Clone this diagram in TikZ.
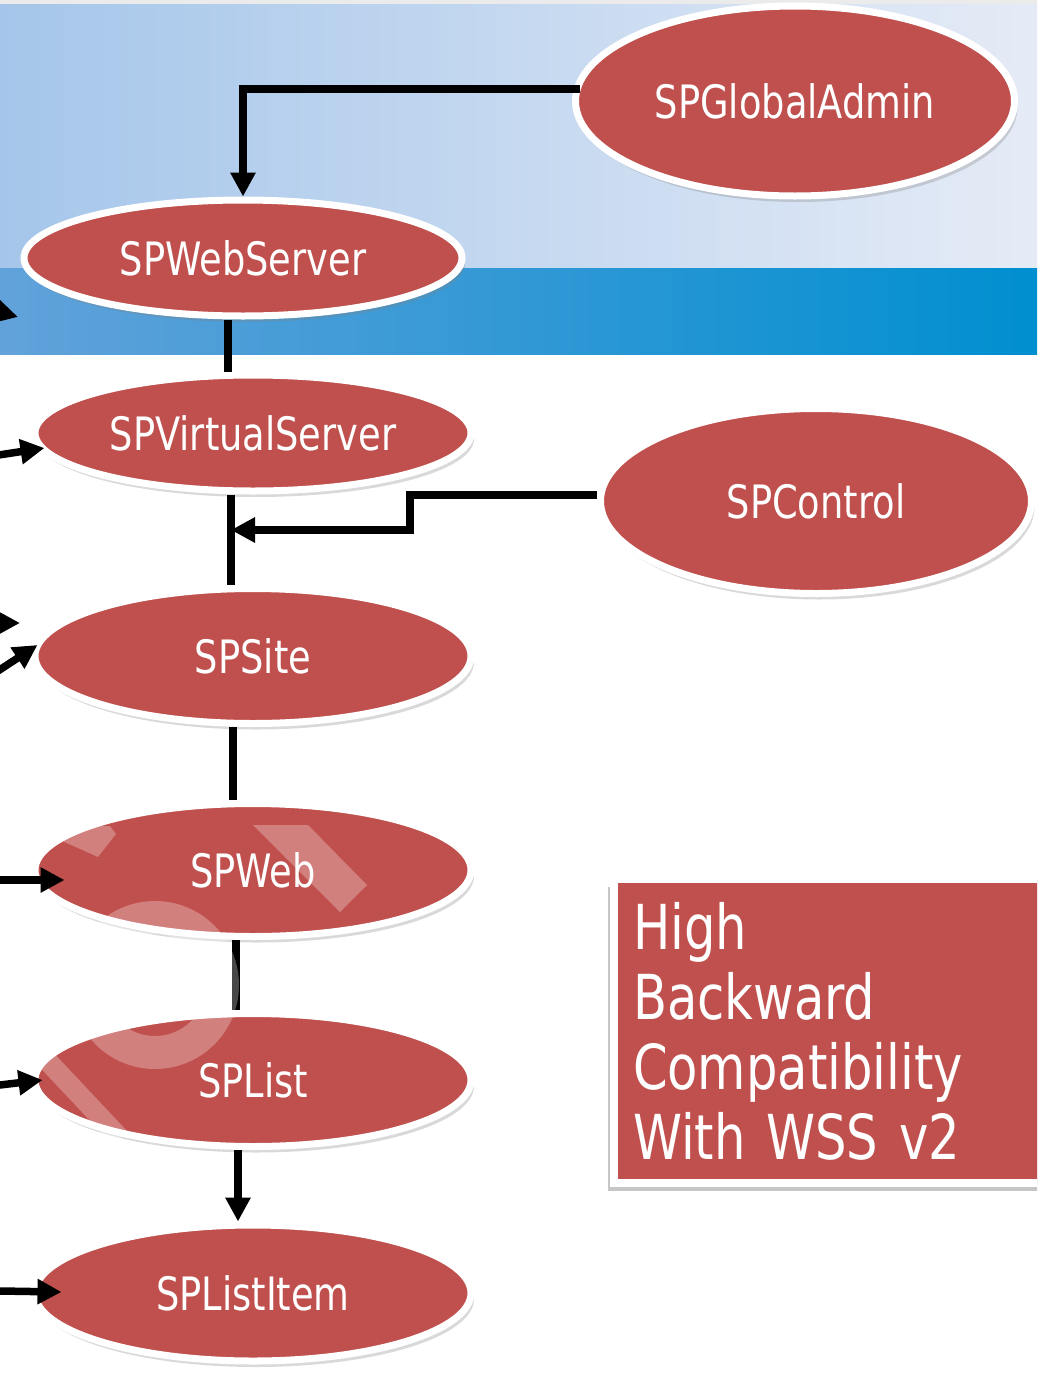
\documentclass[tikz,border=0pt]{standalone}
\usepackage{fontspec}
\setmainfont{DejaVu Sans}[FakeStretch=0.8]
\usetikzlibrary{shapes.geometric,arrows.meta,shadows,calc}
\definecolor{spred}{RGB}{192,80,77}
\definecolor{skyleft}{RGB}{165,198,234}
\definecolor{skymid}{RGB}{205,221,241}
\definecolor{skyright}{RGB}{229,235,246}
\definecolor{bandleft}{RGB}{98,162,218}
\definecolor{bandmid}{RGB}{40,150,214}
\definecolor{bandright}{RGB}{0,143,208}
\begin{document}
\begin{tikzpicture}[x=1pt,y=-1pt,
  obj/.style={ellipse,fill=spred,draw=white,line width=7pt,inner sep=0pt,
    text=white,font=\fontsize{46}{52}\selectfont,minimum width=436pt,
    drop shadow={shadow xshift=3pt,shadow yshift=-6pt,opacity=0.3}},
  link/.style={line width=7.5pt},
  arr/.style={link,-{Triangle[length=24pt,width=24pt]}},
  wmark/.style={white,opacity=0.28}]
  \useasboundingbox (0,0) rectangle (1037,1374);
  \clip (0,0) rectangle (1037,1374);
  % banner
  \fill[black!8] (0,0) rectangle (1037,4);
  \shade[left color=skyleft,middle color=skymid,right color=skyright] (0,4) rectangle (1037,268);
  \shade[left color=bandleft,middle color=bandmid,right color=bandright] (0,268) rectangle (1037,354);
  % object model
  \node[obj,minimum width=439pt,minimum height=190pt] (admin) at (795,101) {SPGlobalAdmin};
  \node[obj,minimum width=438pt,minimum height=116pt] (websrv) at (243,258) {SPWebServer};
  \node[obj,minimum height=116pt] (vsrv) at (253,433) {SPVirtualServer};
  \node[obj,minimum width=431pt,minimum height=185pt] (control) at (816,501) {SPControl};
  \node[obj,minimum height=135pt] (site) at (253,656) {SPSite};
  \node[obj,minimum height=133pt] (web) at (253,870) {SPWeb};
  \node[obj,minimum height=133pt] (list) at (253,1080) {SPList};
  \node[obj,minimum height=136pt] (item) at (253,1293) {SPListItem};
  \node[fill=spred,draw=white,line width=8pt,outer sep=0pt,anchor=north west,
    minimum height=304pt,text width=420pt,inner xsep=19pt,align=left,text=white,
    font=\fontsize{62}{70}\selectfont,
    drop shadow={shadow xshift=-6pt,shadow yshift=-8pt,opacity=0.45}]
    (compat) at (614,879) {High\\Backward\\Compatibility\\With WSS v2};
  % links
  \draw[arr] ($(admin.west)+(8,-12)$) -| (websrv.north);
  \draw[link] ([xshift=-15pt]websrv.south) -- ([xshift=-15pt]websrv.south |- vsrv.north);
  \coordinate (junc) at (231,530);
  \draw[link] ([xshift=-22pt]vsrv.south) -- (junc) -- ([xshift=-22pt]vsrv.south |- site.north);
  \draw[arr] ($(control.west)+(0,-6)$) -- ++(-187,0) |- (junc);
  \draw[link] ([xshift=-20pt]site.south) -- ([xshift=-20pt]site.south |- web.north);
  \draw[link] ([xshift=-17pt]web.south) -- ([xshift=-17pt]web.south |- list.north);
  \draw[arr] ([xshift=-15pt]list.south) -- ([xshift=-15pt]list.south |- item.north);
  % links from the left
  \coordinate (src1) at (-60,296); \coordinate (tip1) at (18,317);
  \coordinate (src2) at (-60,464);
  \coordinate (src3) at (-60,623); \coordinate (tip3) at (20,623);
  \coordinate (src4) at (-60,709);
  \coordinate (src5) at (-60,880);
  \coordinate (src6) at (-60,1092);
  \coordinate (src7) at (-60,1290);
  \draw[arr] (src1) -- (tip1);
  \draw[arr] (src2) -- ($(vsrv.west)+(13,15)$);
  \draw[arr] (src3) -- (tip3);
  \draw[arr] (src4) -- ($(site.west)+(6,-11)$);
  \draw[arr] (src5) -- ($(web.west)+(33,10)$);
  \draw[arr] (src6) -- ($(list.west)+(11,0)$);
  \draw[arr] (src7) -- ($(item.west)+(30,-1)$);
  % watermark
  \fill[wmark] (253,825) -- (308,825) -- (367,885) -- (340,912) -- cycle;
  \fill[wmark] (60,840) -- (80,826) -- (110,826) -- (116,834) -- (98,857) -- cycle;
  \draw[wmark,line width=33pt] (155,985) circle (67.5);
  \draw[wmark,line width=20pt] (-40,968) -- (120,1138);
\end{tikzpicture}
\end{document}
